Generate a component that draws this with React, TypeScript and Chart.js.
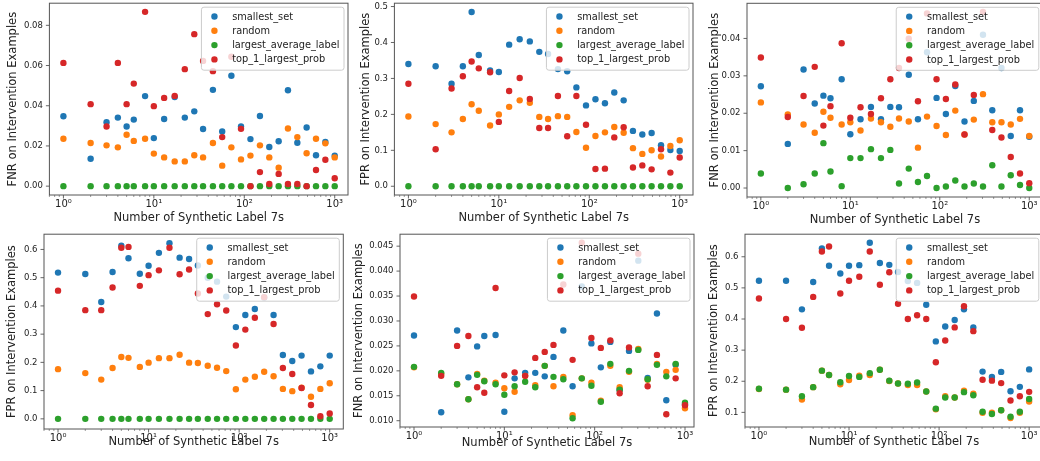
import React, { useEffect, useRef } from 'react';
import { Chart, registerables } from 'chart.js';

Chart.register(...registerables);

const FONT = "'DejaVu Sans', sans-serif";
const TEXT = '#222222';
const SPINE = '#555555';
Chart.defaults.font.family = FONT;

// ---------- shared data ----------
const xValues = [1, 2, 3, 4, 5, 6, 8, 10, 13, 17, 22, 28, 35, 45, 57, 72, 92, 117, 149, 189, 240, 304, 386, 489, 621, 788, 1000];
const seriesNames = ['smallest_set', 'random', 'largest_average_label', 'top_1_largest_prob'];
const seriesColors = ['#1f77b4', '#ff7f0e', '#2ca02c', '#d62728'];
const xMajorTicks = [1, 10, 100, 1000];
const xTickLabels = ['10⁰', '10¹', '10²', '10³'];
const xTitle = 'Number of Synthetic Label 7s';
const fnrTitle = 'FNR on Intervention Examples';
const fprTitle = 'FPR on Intervention Examples';

// ---------- panel 1 (top-left, FNR) ----------
const p1Smallest = [0.0348, 0.0136, 0.0318, 0.0341, 0.0297, 0.0331, 0.0448, 0.0239, 0.0334, 0.0443, 0.0341, 0.0372, 0.0284, 0.0479, 0.0272, 0.0549, 0.0297, 0.0234, 0.0349, 0.0195, 0.0223, 0.0477, 0.0216, 0.0292, 0.0154, 0.0220, 0.0152];
const p1Random = [0.0236, 0.0215, 0.0203, 0.0193, 0.0256, 0.0225, 0.0236, 0.0162, 0.0143, 0.0123, 0.0123, 0.0154, 0.0143, 0.0215, 0.0102, 0.0193, 0.0133, 0.0152, 0.0203, 0.0143, 0.0092, 0.0287, 0.0244, 0.0164, 0.0236, 0.0213, 0.0143];
const p1Largest = [0, 0, 0, 0, 0, 0, 0, 0, 0, 0, 0, 0, 0, 0, 0, 0, 0, 0, 0, 0, 0, 0, 0, 0, 0, 0, 0];
const p1Top1 = [0.0613, 0.0408, 0.0297, 0.0613, 0.0408, 0.0510, 0.0867, 0.0398, 0.0439, 0.0449, 0.0582, 0.0756, 0.0623, 0.0572, 0.0244, 0.0644, 0.0285, 0.0, 0.0070, 0.0011, 0.0061, 0.0011, 0.0011, 0.0, 0.0080, 0.0131, 0.0039];
const p1YTicks = [0, 0.02, 0.04, 0.06, 0.08];

// ---------- panel 2 (top-middle, FPR) ----------
const p2Smallest = [0.340, 0.334, 0.285, 0.334, 0.485, 0.365, 0.322, 0.318, 0.394, 0.409, 0.403, 0.374, 0.368, 0.326, 0.320, 0.275, 0.225, 0.242, 0.231, 0.261, 0.239, 0.154, 0.144, 0.148, 0.114, 0.101, 0.098];
const p2Random = [0.194, 0.173, 0.150, 0.187, 0.228, 0.210, 0.169, 0.200, 0.221, 0.239, 0.232, 0.193, 0.187, 0.195, 0.193, 0.151, 0.107, 0.140, 0.150, 0.165, 0.149, 0.106, 0.090, 0.100, 0.083, 0.112, 0.128];
const p2Largest = [0, 0, 0, 0, 0, 0, 0, 0, 0, 0, 0, 0, 0, 0, 0, 0, 0, 0, 0, 0, 0, 0, 0, 0, 0, 0, 0];
const p2Top1 = [0.285, 0.103, 0.272, 0.306, 0.347, 0.328, 0.317, 0.179, 0.265, 0.301, 0.243, 0.162, 0.162, 0.251, 0.139, 0.251, 0.171, 0.048, 0.049, 0.136, 0.164, 0.052, 0.058, 0.047, 0.103, 0.038, 0.080];
const p2YTicks = [0, 0.1, 0.2, 0.3, 0.4, 0.5];

// ---------- panel 3 (top-right, FNR) ----------
const p3Smallest = [0.0272, 0.0118, 0.0317, 0.0226, 0.0247, 0.0240, 0.0291, 0.0144, 0.0184, 0.0217, 0.0184, 0.0217, 0.0216, 0.0303, 0.0184, 0.0363, 0.0241, 0.0198, 0.0273, 0.0178, 0.0233, 0.0410, 0.0208, 0.0321, 0.0139, 0.0208, 0.0137];
const p3Random = [0.0229, 0.0197, 0.0170, 0.0148, 0.0204, 0.0188, 0.0170, 0.0176, 0.0154, 0.0186, 0.0176, 0.0164, 0.0186, 0.0178, 0.0108, 0.0191, 0.0166, 0.0142, 0.0207, 0.0143, 0.0183, 0.0251, 0.0176, 0.0176, 0.0170, 0.0185, 0.0139];
const p3Largest = [0.0039, 0.0, 0.0010, 0.0039, 0.0120, 0.0044, 0.0005, 0.0080, 0.0080, 0.0104, 0.0080, 0.0102, 0.0012, 0.0052, 0.0016, 0.0032, 0.0, 0.0004, 0.0020, 0.0004, 0.0012, 0.0004, 0.0061, 0.0004, 0.0034, 0.0008, 0.0];
const p3Top1 = [0.0349, 0.0190, 0.0246, 0.0324, 0.0167, 0.0219, 0.0387, 0.0188, 0.0216, 0.0198, 0.0240, 0.0291, 0.0321, 0.0399, 0.0232, 0.0467, 0.0291, 0.0238, 0.0277, 0.0143, 0.0249, 0.0471, 0.0155, 0.0135, 0.0083, 0.0039, 0.0013];
const p3YTicks = [0, 0.01, 0.02, 0.03, 0.04];

// ---------- panel 4 (bottom-left, FPR) ----------
const p4Smallest = [0.518, 0.513, 0.414, 0.520, 0.613, 0.569, 0.514, 0.542, 0.588, 0.622, 0.571, 0.566, 0.543, 0.500, 0.486, 0.433, 0.325, 0.368, 0.389, 0.430, 0.368, 0.226, 0.205, 0.224, 0.168, 0.186, 0.224];
const p4Random = [0.176, 0.162, 0.139, 0.180, 0.219, 0.216, 0.184, 0.199, 0.215, 0.215, 0.227, 0.199, 0.198, 0.188, 0.181, 0.169, 0.105, 0.139, 0.149, 0.167, 0.151, 0.106, 0.098, 0.110, 0.078, 0.106, 0.126];
const p4Largest = [0, 0, 0, 0, 0, 0, 0, 0, 0, 0, 0, 0, 0, 0, 0, 0, 0, 0, 0, 0, 0, 0, 0, 0, 0, 0, 0];
const p4Top1 = [0.454, 0.385, 0.385, 0.465, 0.606, 0.609, 0.471, 0.509, 0.526, 0.606, 0.512, 0.529, 0.444, 0.371, 0.406, 0.384, 0.260, 0.316, 0.358, 0.431, 0.336, 0.180, 0.159, 0.109, 0.049, 0.009, 0.019];
const p4YTicks = [0, 0.1, 0.2, 0.3, 0.4, 0.5, 0.6];

// ---------- panel 5 (bottom-middle, FNR) ----------
const p5Smallest = [0.0271, 0.0117, 0.0281, 0.0187, 0.0249, 0.0270, 0.0272, 0.0118, 0.0185, 0.0196, 0.0196, 0.0189, 0.0228, 0.0281, 0.0169, 0.0369, 0.0255, 0.0207, 0.0258, 0.0162, 0.0240, 0.0421, 0.0186, 0.0315, 0.0141, 0.0212, 0.0133];
const p5Random = [0.0207, 0.0194, 0.0173, 0.0143, 0.0194, 0.0180, 0.0176, 0.0165, 0.0158, 0.0190, 0.0171, 0.0210, 0.0169, 0.0188, 0.0111, 0.0185, 0.0176, 0.0140, 0.0210, 0.0167, 0.0198, 0.0244, 0.0182, 0.0214, 0.0198, 0.0202, 0.0125];
const p5Largest = [0.0208, 0.0196, 0.0173, 0.0143, 0.0192, 0.0179, 0.0173, 0.0152, 0.0169, 0.0178, 0.0167, 0.0210, 0.0188, 0.0183, 0.0105, 0.0185, 0.0170, 0.0138, 0.0214, 0.0162, 0.0200, 0.0242, 0.0183, 0.0212, 0.0189, 0.0214, 0.0136];
const p5Top1 = [0.0349, 0.0190, 0.0250, 0.0270, 0.0167, 0.0156, 0.0366, 0.0191, 0.0197, 0.0190, 0.0226, 0.0238, 0.0252, 0.0373, 0.0222, 0.0457, 0.0266, 0.0246, 0.0261, 0.0155, 0.0247, 0.0435, 0.0169, 0.0232, 0.0113, 0.0185, 0.0131];
const p5YTicks = [0.010, 0.015, 0.020, 0.025, 0.030, 0.035, 0.040, 0.045];

// ---------- panel 6 (bottom-right, FPR) ----------
const p6Smallest = [0.523, 0.523, 0.431, 0.519, 0.627, 0.571, 0.546, 0.571, 0.573, 0.645, 0.580, 0.574, 0.551, 0.522, 0.516, 0.446, 0.328, 0.376, 0.397, 0.431, 0.373, 0.231, 0.214, 0.230, 0.168, 0.182, 0.238];
const p6Random = [0.175, 0.173, 0.141, 0.181, 0.234, 0.220, 0.190, 0.204, 0.218, 0.220, 0.237, 0.201, 0.193, 0.188, 0.188, 0.167, 0.110, 0.152, 0.148, 0.170, 0.160, 0.099, 0.099, 0.107, 0.082, 0.099, 0.135];
const p6Largest = [0.176, 0.173, 0.152, 0.181, 0.234, 0.220, 0.197, 0.217, 0.214, 0.226, 0.237, 0.202, 0.193, 0.192, 0.196, 0.167, 0.112, 0.148, 0.148, 0.165, 0.155, 0.102, 0.095, 0.107, 0.086, 0.102, 0.143];
const p6Top1 = [0.466, 0.400, 0.372, 0.471, 0.617, 0.633, 0.482, 0.523, 0.536, 0.617, 0.510, 0.550, 0.449, 0.400, 0.412, 0.400, 0.261, 0.331, 0.373, 0.441, 0.361, 0.205, 0.202, 0.194, 0.138, 0.152, 0.166];
const p6YTicks = [0.1, 0.2, 0.3, 0.4, 0.5, 0.6];

type PanelCfg = {
  series: number[][];
  yTitle: string;
  yTicks: number[];
  yDec: number;
  yMin: number;
  yMax: number;
  cell: { left: number; top: number; w: number; h: number };
  plot: { l: number; t: number; r: number; b: number };
  p0: number; // pixel of x=1
  p3: number; // pixel of x=1000
  yTitleX: number;
  xTitleY: number;
};

const panels: PanelCfg[] = [
  {
    series: [p1Smallest, p1Random, p1Largest, p1Top1], yTitle: fnrTitle, yTicks: p1YTicks, yDec: 2,
    yMin: -0.0044, yMax: 0.091,
    cell: { left: 0, top: 0, w: 352, h: 231 }, plot: { l: 49.4, t: 1, r: 348, b: 195 },
    p0: 63, p3: 334.7, yTitleX: 12.7, xTitleY: 217.7,
  },
  {
    series: [p2Smallest, p2Random, p2Largest, p2Top1], yTitle: fprTitle, yTicks: p2YTicks, yDec: 1,
    yMin: -0.0243, yMax: 0.5093,
    cell: { left: 352, top: 0, w: 346, h: 231 }, plot: { l: 394.4, t: 1, r: 693, b: 195 },
    p0: 408, p3: 679.7, yTitleX: 366, xTitleY: 217.7,
  },
  {
    series: [p3Smallest, p3Random, p3Largest, p3Top1], yTitle: fnrTitle, yTicks: p3YTicks, yDec: 2,
    yMin: -0.0024, yMax: 0.0494,
    cell: { left: 698, top: 0, w: 348, h: 231 }, plot: { l: 747, t: 3.3, r: 1046, b: 197 },
    p0: 760.7, p3: 1032.3, yTitleX: 715, xTitleY: 220.4,
  },
  {
    series: [p4Smallest, p4Random, p4Largest, p4Top1], yTitle: fprTitle, yTicks: p4YTicks, yDec: 1,
    yMin: -0.036, yMax: 0.654,
    cell: { left: 0, top: 231, w: 352, h: 230 }, plot: { l: 44, t: 233.3, r: 343.3, b: 429 },
    p0: 57.7, p3: 329.7, yTitleX: 11.7, xTitleY: 441.7,
  },
  {
    series: [p5Smallest, p5Random, p5Largest, p5Top1], yTitle: fnrTitle, yTicks: p5YTicks, yDec: 3,
    yMin: 0.00874, yMax: 0.0474,
    cell: { left: 352, top: 231, w: 346, h: 230 }, plot: { l: 400, t: 233.3, r: 694, b: 427 },
    p0: 414, p3: 685, yTitleX: 359.4, xTitleY: 442.7,
  },
  {
    series: [p6Smallest, p6Random, p6Largest, p6Top1], yTitle: fprTitle, yTicks: p6YTicks, yDec: 1,
    yMin: 0.053, yMax: 0.6725,
    cell: { left: 698, top: 231, w: 348, h: 230 }, plot: { l: 745, t: 233, r: 1044, b: 427 },
    p0: 759, p3: 1030.3, yTitleX: 713.7, xTitleY: 441.7,
  },
];

const TICK_FONT = 8.5;
const XTICK_FONT = 10;
const TITLE_FONT = 11.5;
const LEGEND_FONT = 9.8;

const decorPlugin = {
  id: 'mplDecor',
  afterDatasetsDraw(chart: any) {
    const { ctx, chartArea: a } = chart;
    const xs = chart.scales.x;
    const ys = chart.scales.y;
    ctx.save();
    ctx.strokeStyle = SPINE;
    // major ticks
    ctx.lineWidth = 0.9;
    ctx.beginPath();
    for (const t of ys.ticks) {
      const py = ys.getPixelForValue(t.value);
      ctx.moveTo(a.left - 3.5, py);
      ctx.lineTo(a.left, py);
    }
    for (const t of xs.ticks) {
      const px = xs.getPixelForValue(t.value);
      ctx.moveTo(px, a.bottom);
      ctx.lineTo(px, a.bottom + 3.5);
    }
    ctx.stroke();
    // minor x ticks
    ctx.lineWidth = 0.6;
    ctx.beginPath();
    for (let e = -1; e <= 3; e++) {
      const d = Math.pow(10, e);
      for (let k = 2; k <= 9; k++) {
        const v = k * d;
        if (v > xs.min && v < xs.max) {
          const px = xs.getPixelForValue(v);
          ctx.moveTo(px, a.bottom);
          ctx.lineTo(px, a.bottom + 2);
        }
      }
    }
    ctx.stroke();
    // legend
    ctx.font = `${LEGEND_FONT}px ${FONT}`;
    const labels: string[] = chart.data.datasets.map((d: any) => d.label);
    const tw = Math.max(...labels.map((l) => ctx.measureText(l).width));
    const w = 30.7 + tw + 4.5;
    const h = 63;
    const bx = a.right - 4 - w;
    const by = a.top + 4;
    ctx.beginPath();
    ctx.roundRect(bx, by, w, h, 2.5);
    ctx.fillStyle = 'rgba(255,255,255,0.8)';
    ctx.fill();
    ctx.strokeStyle = '#cccccc';
    ctx.lineWidth = 1;
    ctx.stroke();
    ctx.textBaseline = 'middle';
    ctx.textAlign = 'left';
    chart.data.datasets.forEach((d: any, i: number) => {
      const cy = by + 9.3 + i * 14.3;
      ctx.beginPath();
      ctx.arc(bx + 13, cy, 3.2, 0, Math.PI * 2);
      ctx.fillStyle = d.backgroundColor;
      ctx.fill();
      ctx.fillStyle = TEXT;
      ctx.fillText(d.label, bx + 30.7, cy + 0.5);
    });
    // frame
    ctx.strokeStyle = SPINE;
    ctx.lineWidth = 1;
    ctx.strokeRect(a.left, a.top, a.right - a.left, a.bottom - a.top);
    ctx.restore();
  },
};

function Panel({ cfg }: { cfg: PanelCfg }) {
  const ref = useRef<HTMLCanvasElement>(null);
  useEffect(() => {
    if (!ref.current) return;
    const { cell, plot } = cfg;
    const dec = (cfg.p3 - cfg.p0) / 3;
    const xMin = Math.pow(10, (plot.l - cfg.p0) / dec);
    const xMax = Math.pow(10, 3 + (plot.r - cfg.p3) / dec);
    const cellRight = cell.left + cell.w;
    const cellBottom = cell.top + cell.h;
    const lh = TITLE_FONT * 1.2;
    const chart = new Chart(ref.current, {
      type: 'scatter',
      data: {
        datasets: cfg.series.map((arr, i) => ({
          label: seriesNames[i],
          data: xValues.map((x, j) => ({ x, y: arr[j] })),
          backgroundColor: seriesColors[i],
          borderColor: seriesColors[i],
          borderWidth: 0,
          pointRadius: 3.2,
          pointHoverRadius: 3.2,
          order: 4 - i,
        })),
      },
      options: {
        responsive: false,
        animation: false,
        events: [],
        layout: {
          padding: { left: 0, right: cellRight - plot.r, top: plot.t - cell.top, bottom: 0 },
        },
        plugins: { legend: { display: false }, tooltip: { enabled: false } },
        scales: {
          x: {
            type: 'logarithmic',
            min: xMin,
            max: xMax,
            afterBuildTicks: (s: any) => {
              s.ticks = xMajorTicks.map((v) => ({ value: v, major: true }));
            },
            afterFit: (s: any) => {
              s.height = cellBottom - plot.b;
              s.paddingLeft = 0;
              s.paddingRight = 0;
            },
            ticks: {
              autoSkip: false,
              maxRotation: 0,
              padding: 0,
              color: TEXT,
              font: { size: XTICK_FONT, family: FONT },
              callback: (v: any) => {
                const idx = xMajorTicks.indexOf(Number(v));
                return idx >= 0 ? xTickLabels[idx] : '';
              },
            },
            grid: { display: false, drawTicks: true, tickLength: 3.5 },
            border: { display: false },
            title: {
              display: true,
              text: xTitle,
              color: TEXT,
              font: { size: TITLE_FONT, family: FONT },
              padding: { top: 0, bottom: cellBottom - cfg.xTitleY - lh / 2 },
            },
          },
          y: {
            type: 'linear',
            min: cfg.yMin,
            max: cfg.yMax,
            afterBuildTicks: (s: any) => {
              s.ticks = cfg.yTicks.map((v) => ({ value: v }));
            },
            afterFit: (s: any) => {
              s.width = plot.l - cell.left;
              s.paddingTop = 0;
              s.paddingBottom = 0;
            },
            ticks: {
              padding: 3,
              color: TEXT,
              font: { size: TICK_FONT, family: FONT },
              callback: (v: any) => Number(v).toFixed(cfg.yDec),
            },
            grid: { display: false, drawTicks: true, tickLength: 3.5 },
            border: { display: false },
            title: {
              display: true,
              text: cfg.yTitle,
              color: TEXT,
              font: { size: TITLE_FONT, family: FONT },
              padding: { top: cfg.yTitleX - cell.left - lh / 2, bottom: 0 },
            },
          },
        },
      },
      plugins: [decorPlugin],
    } as any);
    return () => chart.destroy();
  }, [cfg]);
  return (
    <div style={{ position: 'absolute', left: cfg.cell.left, top: cfg.cell.top, width: cfg.cell.w, height: cfg.cell.h }}>
      <canvas ref={ref} width={cfg.cell.w} height={cfg.cell.h} style={{ display: 'block' }} />
    </div>
  );
}

export default function App() {
  return (
    <div style={{ position: 'absolute', left: 0, top: 0, width: 1040, height: 461, overflow: 'hidden', background: '#ffffff' }}>
      {panels.map((p, i) => (
        <Panel key={i} cfg={p} />
      ))}
    </div>
  );
}
